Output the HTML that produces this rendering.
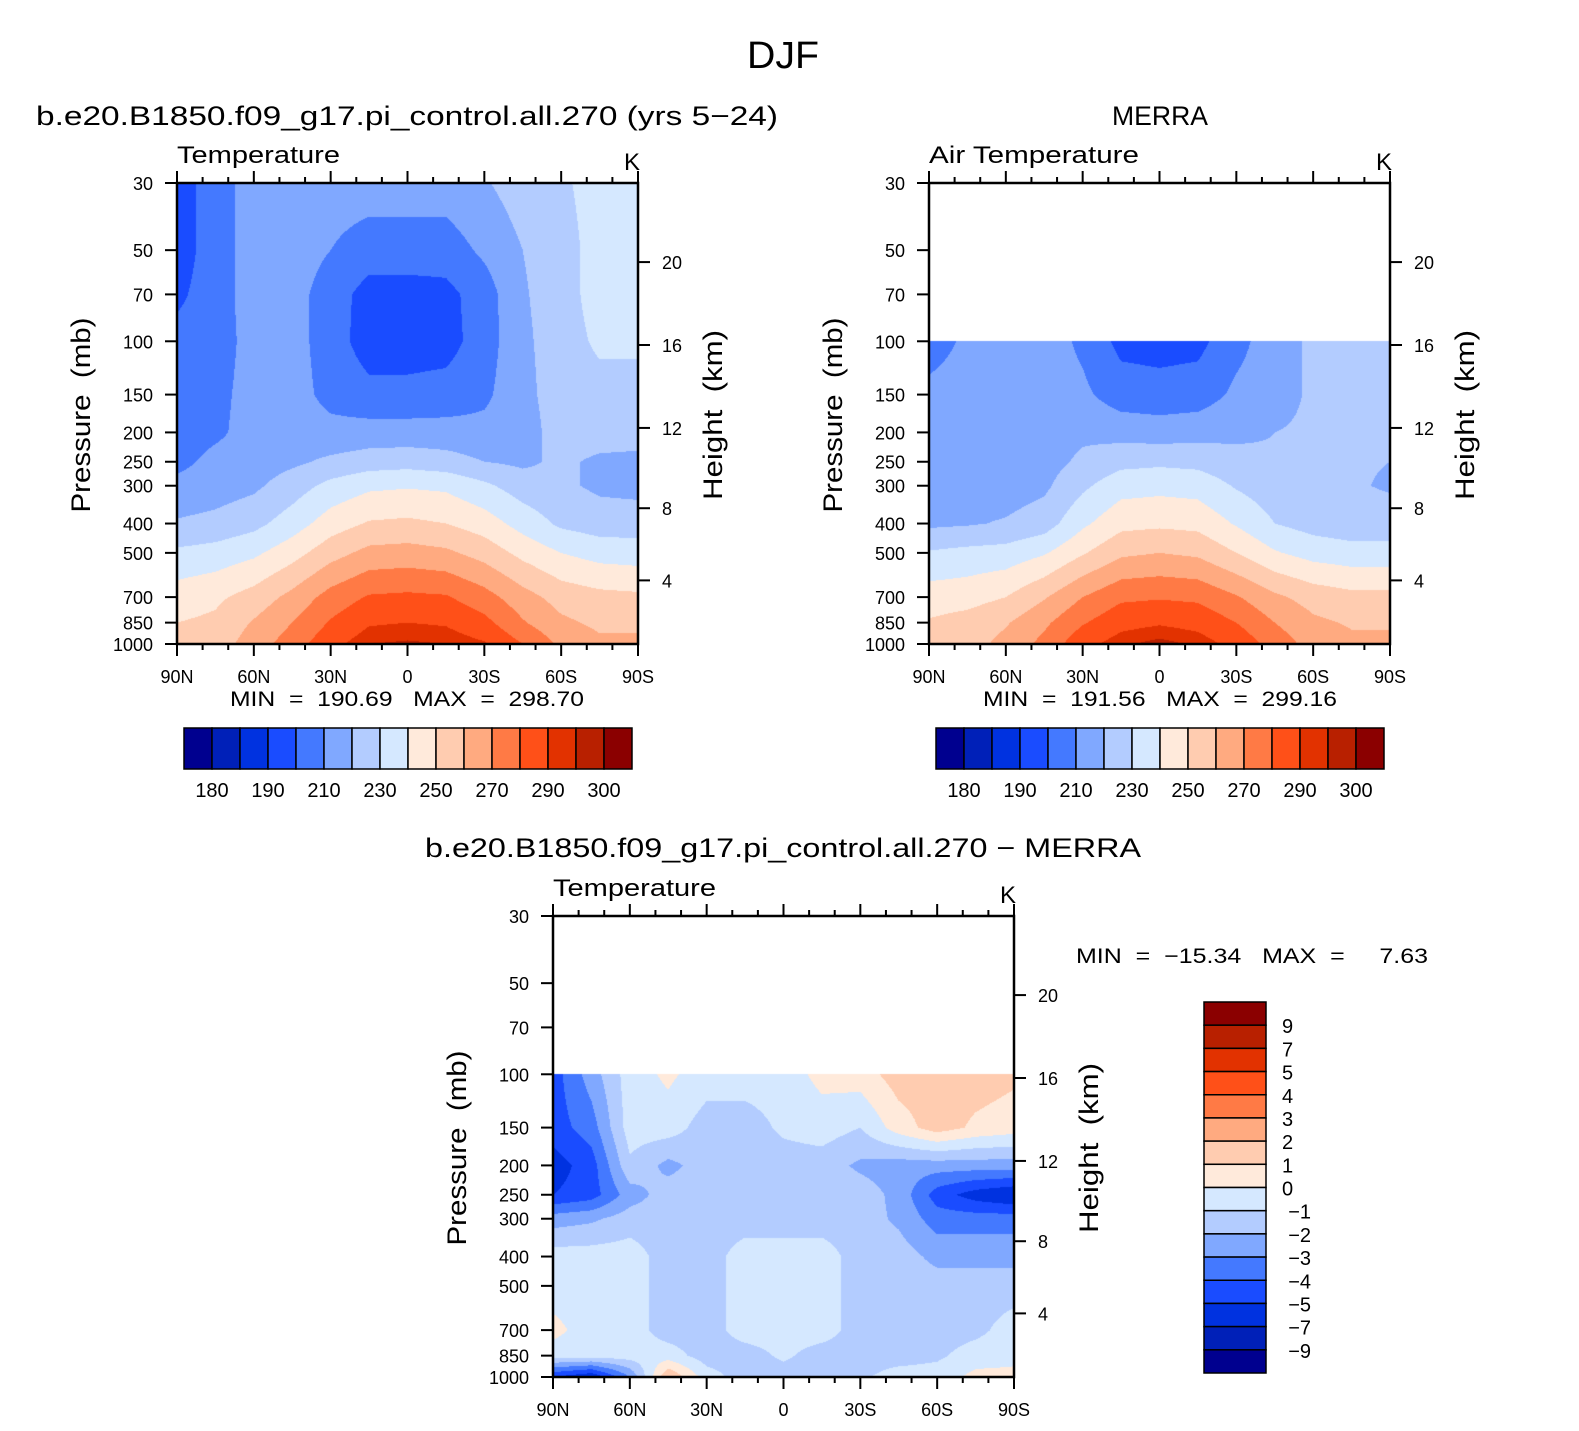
<!DOCTYPE html>
<html><head><meta charset="utf-8">
<style>
body{margin:0;background:#fff;width:1579px;height:1431px;position:relative;overflow:hidden;font-family:"Liberation Sans",sans-serif}
canvas{position:absolute}
svg{position:absolute;left:0;top:0}
text{font-family:"Liberation Sans",sans-serif;fill:#000;white-space:pre}
</style></head><body>
<canvas id="c1" width="461" height="461" style="left:177px;top:183px"></canvas>
<canvas id="c2" width="461" height="461" style="left:929px;top:183px"></canvas>
<canvas id="c3" width="461" height="461" style="left:553px;top:916px"></canvas>
<svg id="s" width="1579" height="1431"></svg>
<script>
const lats=[90,75,60,45,30,15,0,-15,-30,-45,-60,-75,-90];
const pres=[30,50,70,100,150,200,250,300,400,500,700,850,1000];
const absLevels=[180,185,190,200,210,220,230,240,250,260,270,280,290,295,300];
const absTickLabels=["180","190","210","230","250","270","290","300"];
const diffLevels=[-9,-7,-5,-4,-3,-2,-1,0,1,2,3,4,5,7,9];
const diffTickLabels=["9","7","5","4","3","2","1","0","−1","−2","−3","−4","−5","−7","−9"];
const palette=["#00008f","#0020b8","#0032e0","#1a4cff","#4479ff","#80a8ff","#b3ccff","#d5e8ff","#ffeadb","#ffccb0","#ffaa80","#ff7a45","#ff5018","#e23200","#b82000","#8b0000"];
const latLabels=["90N","60N","30N","0","30S","60S","90S"];
const presTicks=[30,50,70,100,150,200,250,300,400,500,700,850,1000];
const heightTicks=[4,8,12,16,20];
const modelT=[
[195,205,215,215,215,215,215,215,219,225,228,235,235],
[195,205,215,215,210,205,205,205,212,220,225,235,235],
[198,205,215,214,205,196,196,197,205,219,225,235,235],
[203,205,214,214,205,195,195,196,205,218,225,232,232],
[205,207,214,214,207,203,203,204,208,217,225,226,226],
[205,208,214,215,213,214,214,214,213,215,225,225,225],
[207,213,215,218,222,225,226,224,220,218,222,218,217],
[213,215,218,225,233,238,239,238,232,225,222,218,217],
[221,223,227,235,245,251,252,250,245,236,228,225,225],
[232,234,238,246,256,263,264,262,256,247,240,236,235],
[245,248,254,263,274,281,282,281,274,264,256,253,252],
[250,252,261,270,281,289,290,289,283,271,262,258,258],
[253,255,265,275,287,295,296,295,291,280,268,262,262]];
const merraT=[
null,null,null,
[205,212,215,215,208,197,196,197,207,215,222,223,223],
[213,215,215,215,212,205,204,205,212,215,222,223,223],
[214,214,214,215,218,216,215,216,218,220,222,222,222],
[213,213,214,216,222,227,228,227,223,221,221,221,220],
[213,214,215,218,228,236,237,236,229,224,222,221,219],
[218,219,221,225,238,247,248,247,239,230,226,224,224],
[231,233,234,239,249,258,260,258,250,241,236,234,234],
[245,246,250,259,270,278,279,278,271,262,256,253,253],
[251,254,259,268,279,287,289,287,280,270,262,259,259],
[252,256,263,273,287,294,297,294,287,276,266,262,262]];
const diffT=[
null,null,null,
[-4.5,-2.5,-0.5,0.2,-0.5,-0.5,-0.5,0.3,0.5,1.5,1.5,1.5,1.2],
[-4.5,-3.5,-0.5,-0.5,-1.5,-1.5,-0.8,-0.5,-1.0,0.5,1.5,0.8,0.5],
[-5.5,-4.5,-1.2,-2.3,-1.5,-1.5,-1.5,-1.5,-2.2,-2.5,-2.5,-2.5,-2.5],
[-5,-4.5,-2.5,-1.5,-1.5,-1.5,-1.5,-1.5,-1.5,-2.3,-4.5,-5.5,-6],
[-2.5,-2.2,-1.5,-1.5,-1.5,-1.5,-1.5,-1.5,-1.5,-2.2,-3.5,-3.5,-3.5],
[-0.5,-0.5,-0.5,-1.5,-1.5,-0.5,-0.5,-0.5,-1.5,-1.5,-2.3,-2.3,-2.3],
[-0.5,-0.5,-0.5,-1.5,-1.5,-0.5,-0.5,-0.5,-1.5,-1.5,-1.5,-1.5,-1.5],
[0.3,-0.5,-0.5,-1.5,-1.5,-0.5,-0.5,-0.5,-1.5,-1.5,-1.5,-1.3,-0.5],
[-0.5,-0.5,-0.5,-0.5,-1.5,-1.5,-0.8,-1.5,-1.5,-1.5,-1.2,-0.5,-0.3],
[-5,-6,-3,2,-0.5,-1.5,-1.5,-1.5,-1.2,-0.5,-0.5,0.3,0.3]];

const W=461,H=461,LN=Math.log(1000/30);
function yOfP(p){return H*Math.log(p/30)/LN;}
function pOfY(y){return 30*Math.exp(y/H*LN);}
function xOfLat(l){return W*(90-l)/180;}
function hToP(h){const m=h*1000;return m<11000?1013.25*Math.pow(1-2.25577e-5*m,5.25588):226.32*Math.exp(-(m-11000)/6341.6);}
function hexRgb(h){return [parseInt(h.substr(1,2),16),parseInt(h.substr(3,2),16),parseInt(h.substr(5,2),16)];}
const pal=palette.map(hexRgb);
function drawField(id,grid,levels){
  const cv=document.getElementById(id),ctx=cv.getContext('2d'),img=ctx.createImageData(W,H);
  const lp=pres.map(p=>Math.log(p));
  for(let y=0;y<H;y++){
    const p=pOfY(y+0.5),l=Math.log(p);
    let i=0;while(i<pres.length-2&&lp[i+1]<l)i++;
    const ty=Math.min(1,Math.max(0,(l-lp[i])/(lp[i+1]-lp[i])));
    let r0=grid[i],r1=grid[i+1];
    if(!r0&&r1&&ty>0.999)r0=r1;
    for(let x=0;x<W;x++){
      const k=(x+0.5)/W*(lats.length-1),j=Math.min(lats.length-2,Math.floor(k)),tx=k-j;
      const o=(y*W+x)*4;
      if(!r0||!r1){img.data[o]=img.data[o+1]=img.data[o+2]=img.data[o+3]=255;continue;}
      const v=(r0[j]*(1-tx)+r0[j+1]*tx)*(1-ty)+(r1[j]*(1-tx)+r1[j+1]*tx)*ty;
      let c=0;while(c<levels.length&&v>=levels[c])c++;
      const col=pal[c];img.data[o]=col[0];img.data[o+1]=col[1];img.data[o+2]=col[2];img.data[o+3]=255;
    }
  }
  ctx.putImageData(img,0,0);
}
drawField('c1',modelT,absLevels);
drawField('c2',merraT,absLevels);
drawField('c3',diffT,diffLevels);

const S=document.getElementById('s'),NS='http://www.w3.org/2000/svg';
function el(tag,attrs,parent){const e=document.createElementNS(NS,tag);for(const k in attrs)e.setAttribute(k,attrs[k]);(parent||S).appendChild(e);return e;}
function txt(x,y,s,size,anchor,parent,len){const e=el('text',{x:x,y:y,'font-size':size,'text-anchor':anchor||'start'},parent);if(len){e.setAttribute('textLength',len);e.setAttribute('lengthAdjust','spacingAndGlyphs');}e.textContent=s;return e;}

function axes(ox,oy,name,titleL,titleLen){
  const g=el('g',{});
  
  
  el('rect',{x:ox,y:oy,width:W,height:H,fill:'none',stroke:'#000','stroke-width':2.5},g);
  for(let d=0;d<=180;d+=10){
    const x=ox+W*d/180,major=d%30===0,len=major?12:6;
    el('line',{x1:x,y1:oy+H,x2:x,y2:oy+H+len,stroke:'#000','stroke-width':2},g);
    el('line',{x1:x,y1:oy,x2:x,y2:oy-len,stroke:'#000','stroke-width':2},g);
  }
  latLabels.forEach((s,i)=>{const t=txt(ox+W*i/6,oy+H+39,s,18,'middle',g);
    
    });
  presTicks.forEach(p=>{const y=oy+yOfP(p);
    el('line',{x1:ox-12,y1:y,x2:ox,y2:y,stroke:'#000','stroke-width':2},g);
    const t=txt(ox-24,y+7,String(p),18,'end',g);
    
    });
  heightTicks.forEach(h=>{const y=oy+yOfP(hToP(h));
    el('line',{x1:ox+W,y1:y,x2:ox+W+12,y2:y,stroke:'#000','stroke-width':2},g);
    const t=txt(ox+W+24,y+7,String(h),18,'start',g);
    
    });
  const yl=txt(0,0,'Pressure  (mb)',27,'middle',g,195);
  yl.setAttribute('transform','translate('+(ox-87)+','+(oy+232)+') rotate(-90)');
  
  
  const hl=txt(0,0,'Height  (km)',27,'middle',g,170);
  hl.setAttribute('transform','translate('+(ox+W+84)+','+(oy+232)+') rotate(-90)');
  
  
  const tl=txt(ox,oy-20,titleL,24,'start',g,titleLen);
  
  
  const k=txt(ox+W-14,oy-13,'K',24,'start',g);
  
  
}
axes(177,183,'model','Temperature',163);
axes(929,183,'merra','Air Temperature',210);
axes(553,916,'diff','Temperature',163);

const title=txt(783,68,'DJF',38,'middle',null,72);


const t1=txt(36,125,'b.e20.B1850.f09_g17.pi_control.all.270 (yrs 5−24)',27,'start',null,742);


const t2=txt(1160,125,'MERRA',27,'middle',null,96);


const t3=txt(783,857,'b.e20.B1850.f09_g17.pi_control.all.270 − MERRA',27,'middle',null,716);


const m1=txt(407,706,'MIN  =  190.69   MAX  =  298.70',21,'middle',null,354);


const m2=txt(1160,706,'MIN  =  191.56   MAX  =  299.16',21,'middle',null,354);


const m3=txt(1076,963,'MIN  =  −15.34   MAX  =     7.63',21,'start',null,352);



function hbar(x0,y0,name){
  const g=el('g',{});
  
  
  const w=448/palette.length;
  palette.forEach((c,i)=>{const r=el('rect',{x:x0+i*w,y:y0,width:w,height:41,fill:c,stroke:'#000','stroke-width':1.5},g);
    
    });
  absTickLabels.forEach((s,i)=>{const t=txt(x0+w*(1+2*i),y0+69,s,20,'middle',g);
    
    });
}
hbar(184,728,'model-colorbar');
hbar(936,728,'merra-colorbar');
(function(){
  const g=el('g',{});
  
  
  const x0=1204,y0=1002,h=371/palette.length;
  for(let i=0;i<palette.length;i++){
    const r=el('rect',{x:x0,y:y0+i*h,width:62,height:h,fill:palette[palette.length-1-i],stroke:'#000','stroke-width':1.5},g);
    
    
  }
  diffTickLabels.forEach((s,i)=>{const y=y0+h*(i+1)+8;
    const t=s.startsWith('−')?txt(1311,y,s,20,'end',g):txt(1282,y,s,20,'start',g);
    
    });
})();
</script>
</body></html>
